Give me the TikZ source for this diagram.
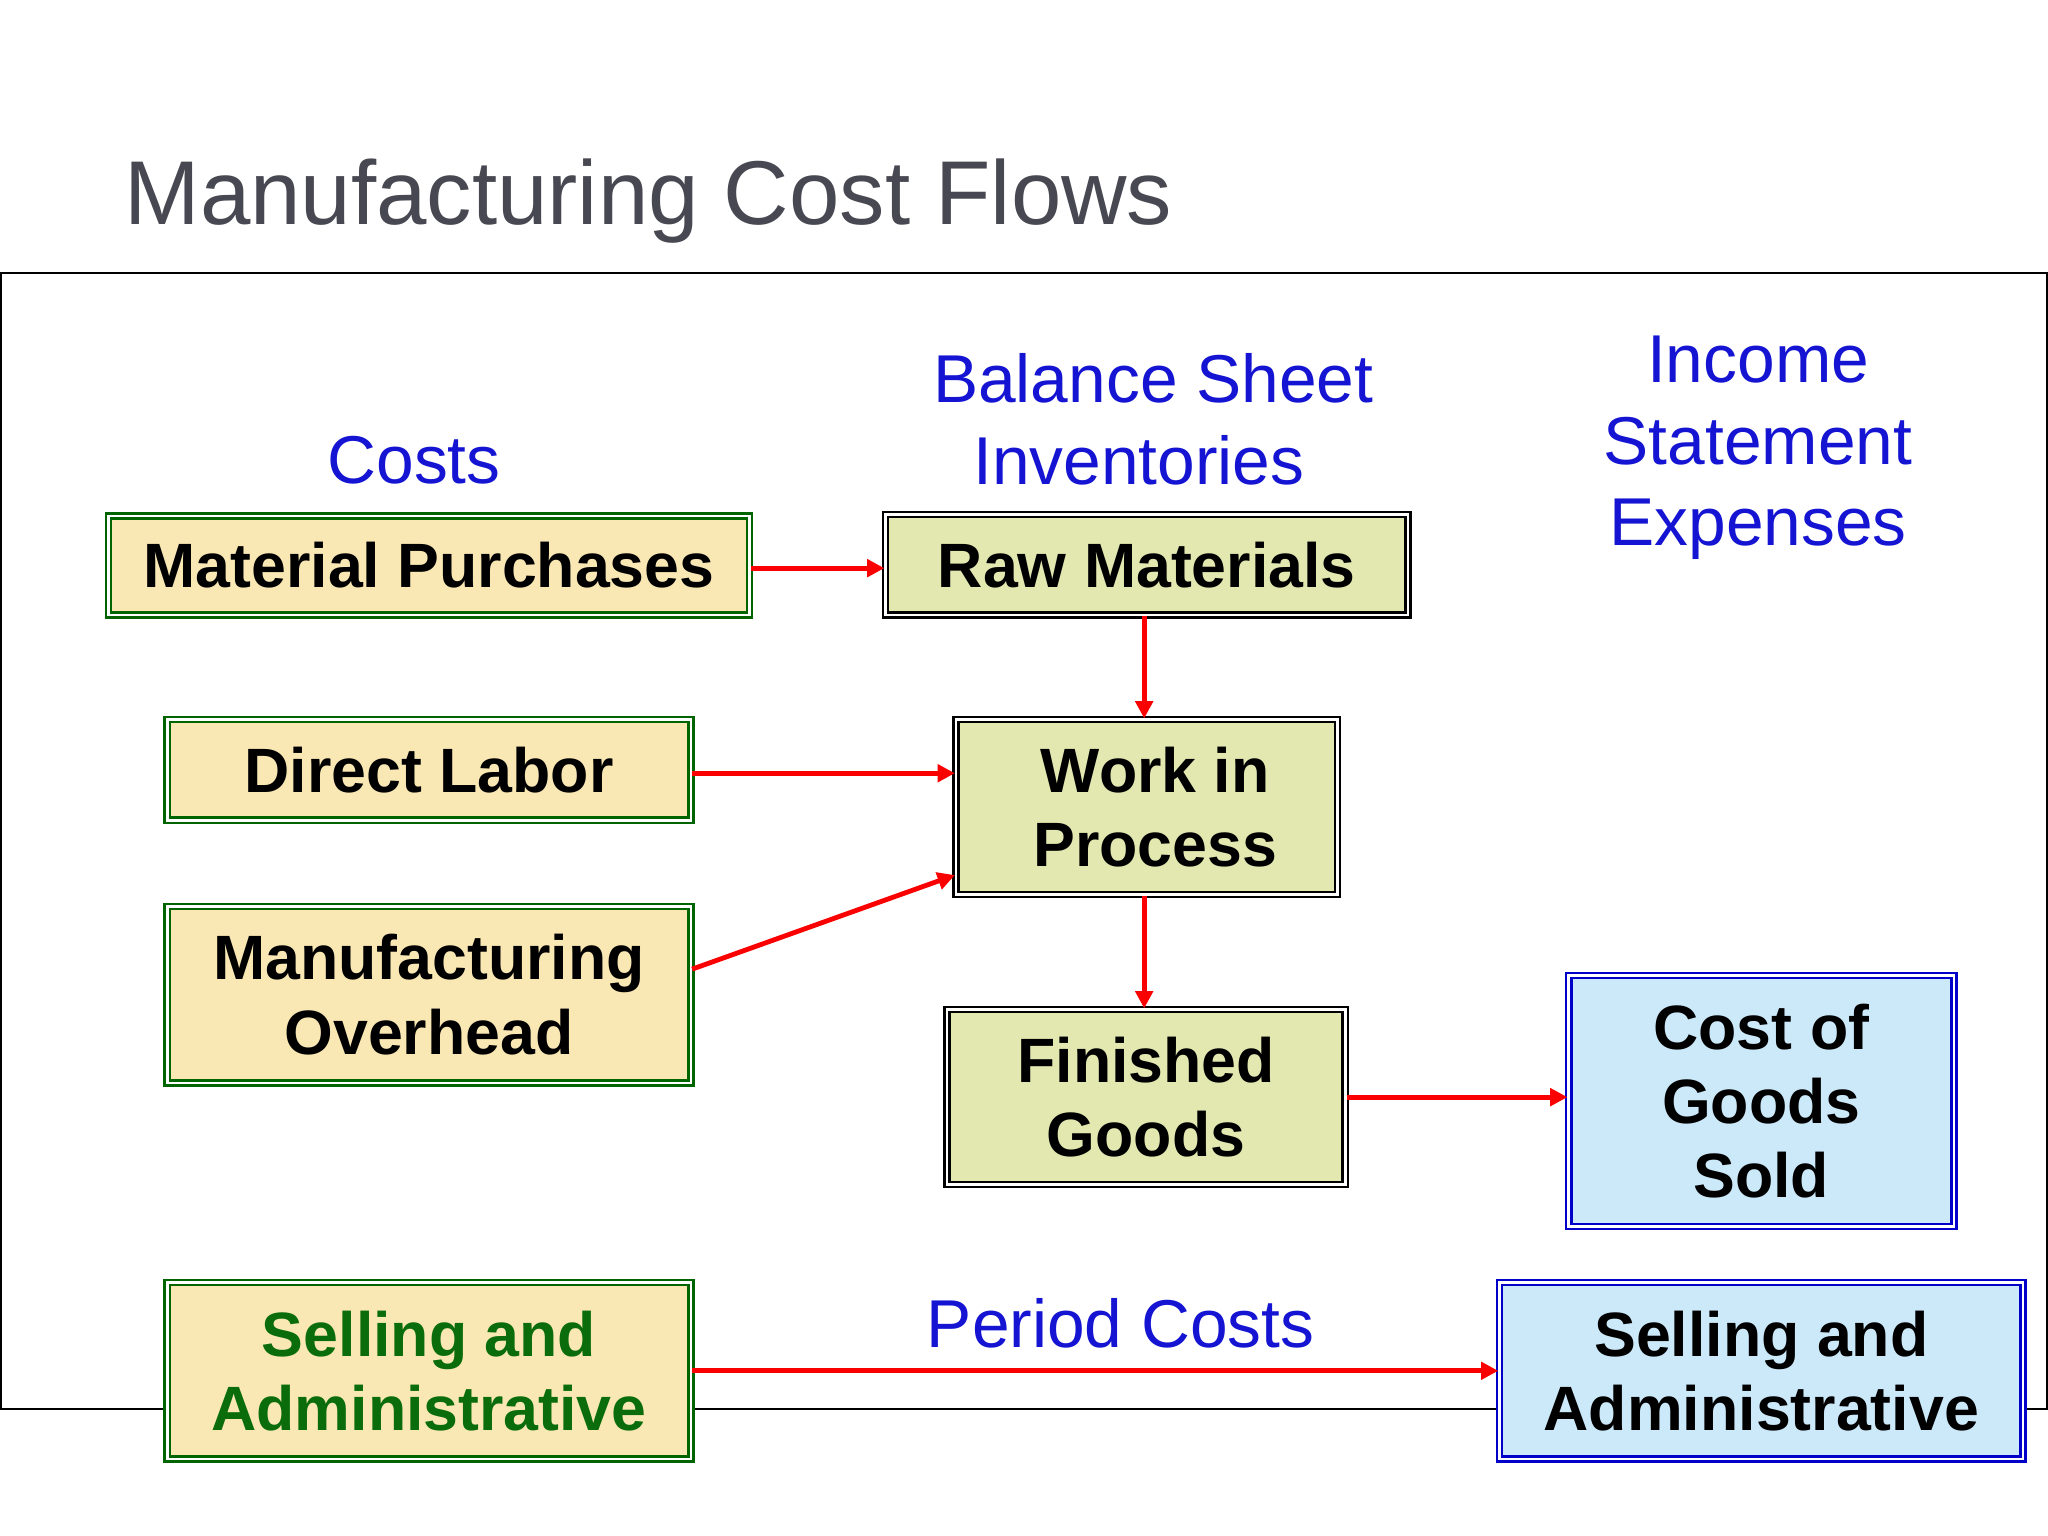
\documentclass[tikz,border=0pt]{standalone}
\usepackage{fontspec}
\setmainfont{Liberation Sans}
\usetikzlibrary{arrows.meta}
\definecolor{titlegray}{RGB}{72,72,82}
\definecolor{hdblue}{RGB}{20,20,210}
\definecolor{bxgreen}{RGB}{0,100,0}
\definecolor{bxyellow}{RGB}{250,232,180}
\definecolor{bxolive}{RGB}{227,232,176}
\definecolor{bxblue}{RGB}{0,0,200}
\definecolor{bxsky}{RGB}{204,233,250}
\definecolor{txgreen}{RGB}{10,108,10}
\definecolor{arrred}{RGB}{250,0,0}
\tikzset{
  box/.style={rectangle, line width=1.1pt, double=white, double distance=1.1pt,
    align=center, inner sep=0pt, font=\fontsize{27.3}{32.4}\selectfont\bfseries},
  costbox/.style={box, draw=bxgreen, fill=bxyellow},
  invbox/.style={box, draw=black, fill=bxolive},
  expbox/.style={box, draw=bxblue, fill=bxsky},
  hdr/.style={text=hdblue, align=center, inner sep=0pt, font=\fontsize{29.5}{35.6}\selectfont},
  arr/.style={draw=arrred, line width=2.1pt, -{Triangle[length=7.5pt,width=7.5pt]}},
}
\begin{document}
\begin{tikzpicture}[x=0.02cm, y=-0.02cm]
\useasboundingbox (0,0) rectangle (1568,1176);
% title
\node[anchor=base west, inner sep=0pt, text=titlegray, font=\fontsize{39.5}{44}\selectfont] (title) at (95,172) {Manufacturing Cost Flows};
% frame
\draw[black, line width=0.8pt] (1,209) rectangle (1567,1079);
% headers
\node[hdr] (hcost) at (317,352) {Costs};
\node[hdr] (hbal) at (883,321) {Balance Sheet\\\hspace*{-0.44cm}Inventories};
\node[hdr] (hinc) at (1346,343) {Income\\Statement\\Expenses};
\node[hdr] (hper) at (858,1013) {Period Costs};
% boxes
\node[costbox, minimum width=9.82cm, minimum height=1.52cm] (MP) at (328.5,433) {Material Purchases};
\node[invbox, minimum width=8.0cm, minimum height=1.54cm] (RM) at (878,432.5) {Raw Materials};
\node[costbox, minimum width=8.02cm, minimum height=1.54cm] (DL) at (328.5,589.5) {Direct Labor};
\node[invbox, minimum width=5.84cm, minimum height=2.68cm] (WIP) at (878,618) {\hspace*{0.26cm}Work in\\\hspace*{0.26cm}Process};
\node[costbox, minimum width=8.02cm, minimum height=2.70cm] (MO) at (328.5,761.5) {Manufacturing\\Overhead};
\node[invbox, minimum width=6.10cm, minimum height=2.68cm] (FG) at (877.5,840) {Finished\\Goods};
\node[expbox, minimum width=5.90cm, minimum height=3.84cm] (CGS) at (1348.5,843) {Cost of\\Goods\\Sold};
\node[costbox, text=txgreen, minimum width=8.02cm, minimum height=2.70cm] (SA1) at (328.5,1049.5) {Selling and\\Administrative};
\node[expbox, minimum width=8.02cm, minimum height=2.70cm] (SA2) at (1348.5,1049.5) {Selling and\\Administrative};
% arrows
\draw[arr] (MP.east |- 0,435) -- (RM.west |- 0,435);
\draw[arr] (RM.south -| 876,0) -- (WIP.north -| 876,0);
\draw[arr] (DL.east |- 0,592) -- (WIP.west |- 0,592);
\draw[arr] (MO.east |- 0,742) -- (WIP.west |- 0,670);
\draw[arr] (WIP.south -| 876,0) -- (FG.north -| 876,0);
\draw[arr] (FG.east) -- (FG.east -| CGS.west);
\draw[arr] (SA1.east) -- (SA2.west);
\end{tikzpicture}
\end{document}
